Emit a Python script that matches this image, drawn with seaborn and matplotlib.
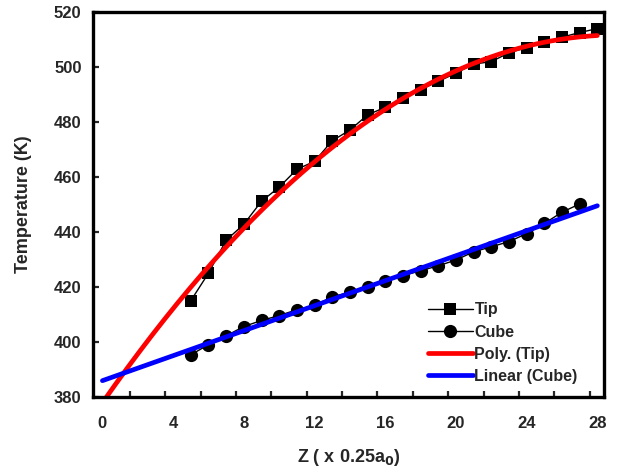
import numpy as np
import pandas as pd
import matplotlib
matplotlib.use('Agg')
import matplotlib.pyplot as plt
import seaborn as sns
from matplotlib.lines import Line2D

# data
tip_z = list(range(5, 29))
tip_temp = [415.0, 425.0, 437.0, 442.8, 451.2, 456.3, 462.8, 465.7, 473.2, 477.1,
            482.6, 485.4, 488.8, 491.8, 494.8, 497.8, 501.1, 502.0, 505.2, 507.1,
            509.0, 510.9, 512.6, 514.0]
cube_z = list(range(5, 28))
cube_temp = [395.3, 399.0, 402.2, 405.6, 407.8, 409.6, 411.7, 413.3, 416.4, 418.1,
             419.9, 422.0, 424.1, 425.9, 427.7, 429.8, 432.8, 434.6, 436.5, 439.4,
             443.1, 447.2, 450.2]
# the red Poly. (Tip) trendline
poly_z = [0.35, 1.2, 3.1, 5, 6.9, 8.8, 10, 12, 16, 20, 24, 28]
poly_temp = [380.0, 389.8, 406.0, 419.9, 432.5, 446.4, 454.0, 464.8, 485.8, 499.0, 507.4, 511.3]
x_ticks = [0, 4, 8, 12, 16, 20, 24, 28]
y_ticks = [380, 400, 420, 440, 460, 480, 500, 520]

sns.set_style('ticks')
plt.rcParams['font.family'] = ['Liberation Sans', 'DejaVu Sans']
plt.rcParams['font.weight'] = 'bold'

tip_df = pd.DataFrame({'Z': tip_z, 'T': tip_temp})
cube_df = pd.DataFrame({'Z': cube_z, 'T': cube_temp})

# trendlines: 2nd order polynomial through the red readings, linear fit for cube
fit_z = np.linspace(0, 28, 200)
poly = np.polyfit(poly_z, poly_temp, 2)
lin = np.polyfit(cube_z, cube_temp, 1)
fit_df = pd.DataFrame({'Z': fit_z, 'poly': np.polyval(poly, fit_z), 'lin': np.polyval(lin, fit_z)})

fig = plt.figure(figsize=(6.18, 4.68), dpi=100)
ax = fig.add_axes([0.150, 0.152, 0.828, 0.822])

sns.lineplot(data=tip_df, x='Z', y='T', ax=ax, color='black', lw=1.0,
             marker='s', markersize=8, markeredgewidth=0, legend=False)
sns.lineplot(data=cube_df, x='Z', y='T', ax=ax, color='black', lw=1.0,
             marker='o', markersize=9.5, markeredgewidth=0, legend=False)
sns.lineplot(data=fit_df, x='Z', y='poly', ax=ax, color='#ff0000', lw=3.4, legend=False)
sns.lineplot(data=fit_df, x='Z', y='lin', ax=ax, color='#0000ff', lw=3.4, legend=False)

ax.set_xlim(-0.55, 28.4)
ax.set_ylim(380, 520)
ax.set_xticks(x_ticks)
ax.set_xticks(np.arange(2, 29, 2) - 0.44, minor=True)
ax.set_yticks(y_ticks)
ax.tick_params(axis='x', which='major', length=0, pad=14, labelsize=12)
ax.tick_params(axis='x', which='minor', direction='in', length=4, width=1.6)
ax.tick_params(axis='y', which='major', direction='in', length=4, width=1.6, pad=8, labelsize=12)
for lab in ax.get_xticklabels() + ax.get_yticklabels():
    lab.set_fontweight('bold')

for sp in ax.spines.values():
    sp.set_visible(True)
    sp.set_linewidth(2.4)
    sp.set_color('black')

ax.set_xlabel('Z ( x 0.25a$_\\mathbf{0}$)', fontsize=13, fontweight='bold', labelpad=11)
ax.set_ylabel('Temperature (K)', fontsize=13, fontweight='bold', labelpad=16)

handles = [
    Line2D([], [], color='black', lw=1.0, marker='s', markersize=8, markeredgewidth=0),
    Line2D([], [], color='black', lw=1.0, marker='o', markersize=9.5, markeredgewidth=0),
    Line2D([], [], color='#ff0000', lw=3.4),
    Line2D([], [], color='#0000ff', lw=3.4),
]
ax.legend(handles, ['Tip', 'Cube', 'Poly. (Tip)', 'Linear (Cube)'],
          loc='upper left', bbox_to_anchor=(0.643, 0.262), frameon=False,
          prop={'weight': 'bold', 'size': 11.5}, handlelength=2.8,
          handletextpad=0.1, labelspacing=0.45, borderaxespad=0)

fig.savefig('out.png', dpi=100)
